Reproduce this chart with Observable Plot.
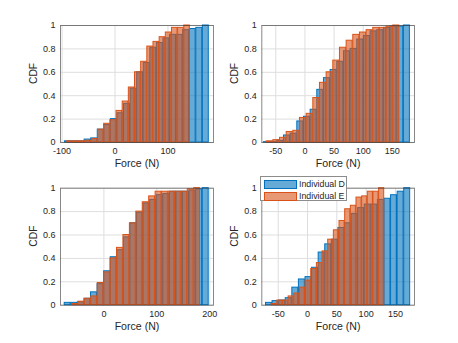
<!DOCTYPE html>
<html>
<head>
<meta charset="utf-8">
<script src="https://cdn.jsdelivr.net/npm/d3@7"></script>
<script src="https://cdn.jsdelivr.net/npm/@observablehq/plot@0.6"></script>
<style>
  html, body { margin: 0; padding: 0; background: #fff; }
  #root { position: relative; width: 458px; height: 343px; overflow: hidden; font-family: "Liberation Sans", Arial, Helvetica, sans-serif; }
  .panel { position: absolute; }
  #legend { position: absolute; left: 260px; top: 176px; width: 87px; height: 25px; background: #fff; border: 1px solid #8c8c8c; box-sizing: border-box; }
  .lp { position: absolute; left: 3px; width: 33px; height: 9px; box-sizing: border-box; }
  .lt { position: absolute; left: 38px; font-size: 8.8px; color: #262626; line-height: 10px; white-space: nowrap; }
</style>
</head>
<body>
<div id="root"></div>
<script>
// ---------- data ----------
const seriesNames = ["Individual D", "Individual E"];
const yTicks = [0, 0.2, 0.4, 0.6, 0.8, 1];

// Panel 1 (top-left)
const p1Ticks = [-100, 0, 100];
const p1Domain = [-103, 186];
const p1DStart = -95.3, p1DWidth = 12.41;
const p1DCdf = [0.01,0.01,0.01,0.025,0.035,0.11,0.15,0.20,0.25,0.33,0.46,0.60,0.68,0.81,0.85,0.89,0.92,0.92,0.96,0.97,0.98,1.0];
const p1EStart = -90.9, p1EWidth = 11.64;
const p1ECdf = [0.01,0.01,0.01,0.015,0.03,0.11,0.16,0.19,0.27,0.35,0.47,0.60,0.69,0.82,0.86,0.90,0.94,0.98,0.98,1.0];

// Panel 2 (top-right)
const p2Ticks = [-50, 0, 50, 100, 150];
const p2Domain = [-74, 188];
const p2DStart = -70.8, p2DWidth = 11.43;
const p2DCdf = [0.003,0.005,0.015,0.06,0.075,0.18,0.22,0.28,0.45,0.55,0.62,0.69,0.78,0.80,0.88,0.91,0.95,0.96,0.98,0.99,0.99,1.0];
const p2EStart = -66.2, p2EWidth = 11.43;
const p2ECdf = [0.01,0.02,0.04,0.09,0.10,0.21,0.245,0.38,0.51,0.60,0.70,0.81,0.87,0.92,0.94,0.96,0.98,0.98,0.99,1.0];

// Panel 3 (bottom-left)
const p3Ticks = [0, 100, 200];
const p3Domain = [-82, 207];
const p3DStart = -74.7, p3DWidth = 12.42;
const p3DCdf = [0.02,0.02,0.025,0.055,0.11,0.18,0.29,0.41,0.47,0.58,0.70,0.79,0.87,0.90,0.94,0.95,0.97,0.97,0.97,0.98,0.99,1.0];
const p3EStart = -60.9, p3EWidth = 12.15;
const p3ECdf = [0.01,0.03,0.055,0.075,0.19,0.28,0.40,0.49,0.60,0.70,0.80,0.88,0.93,0.97,0.97,0.97,0.97,0.97,0.99,1.0];

// Panel 4 (bottom-right)
const p4Ticks = [-50, 0, 50, 100, 150];
const p4Domain = [-78, 182.5];
const p4DStart = -71.4, p4DWidth = 11.23;
const p4DCdf = [0.02,0.035,0.04,0.06,0.15,0.22,0.24,0.32,0.45,0.52,0.56,0.66,0.70,0.78,0.83,0.86,0.86,0.90,0.91,0.94,0.97,1.0];
const p4EStart = -61.7, p4EWidth = 9.65;
const p4ECdf = [0.01,0.04,0.04,0.075,0.10,0.15,0.21,0.31,0.36,0.46,0.56,0.64,0.72,0.82,0.85,0.92,0.93,0.97,0.97,1.0];

// ---------- styles ----------
const colD = "#0072BD", colE = "#D95319";
const font = "'Liberation Sans', Arial, Helvetica, sans-serif";
const barWidth = 0.9;

function bins(start, width, cdf) {
  const pad = width * (1 - barWidth) / 2;
  return cdf.map((v, i) => ({
    x1: start + i * width + pad,
    x2: start + (i + 1) * width - pad,
    cdf: v
  }));
}

function panel(opts) {
  const {left, top, width, height, mL, mR, mT, mB, domain, ticks, D, E} = opts;
  const svg = Plot.plot({
    width, height,
    marginLeft: mL, marginRight: mR, marginTop: mT, marginBottom: mB,
    style: {fontFamily: font, background: "transparent", overflow: "visible"},
    x: {domain, nice: false},
    y: {domain: [0, 1], nice: false},
    marks: [
      Plot.gridX({ticks, stroke: "#dedede", strokeOpacity: 1}),
      Plot.gridY({ticks: yTicks, stroke: "#dedede", strokeOpacity: 1}),
      Plot.rect(D, {x1: "x1", x2: "x2", y1: 0, y2: "cdf", fill: colD, fillOpacity: 0.6, stroke: colD, strokeWidth: 1}),
      Plot.rect(E, {x1: "x1", x2: "x2", y1: 0, y2: "cdf", fill: colE, fillOpacity: 0.6, stroke: colE, strokeWidth: 1}),
      Plot.frame({stroke: "#262626", strokeOpacity: 0.55, strokeWidth: 1}),
      Plot.axisX({ticks, tickSize: 0, tickPadding: 5.5, tickFormat: d => String(d), label: null, fontSize: 9, color: "#262626"}),
      Plot.axisY({ticks: yTicks, tickSize: 0, tickPadding: 5, tickFormat: d => String(d), label: null, fontSize: 9, color: "#262626"}),
      Plot.text(["Force (N)"], {frameAnchor: "bottom", dy: 24.5, fontSize: 10.6, fill: "#262626"}),
      Plot.text(["CDF"], {frameAnchor: "left", dx: -27, rotate: -90, fontSize: 10.3, fill: "#262626"})
    ]
  });
  svg.classList.add("panel");
  svg.style.left = left + "px";
  svg.style.top = top + "px";
  document.getElementById("root").appendChild(svg);
}

panel({left: 0, top: 0, width: 229, height: 172, mL: 60, mR: 16, mT: 25, mB: 30,
  domain: p1Domain, ticks: p1Ticks, D: bins(p1DStart, p1DWidth, p1DCdf), E: bins(p1EStart, p1EWidth, p1ECdf)});
panel({left: 229, top: 0, width: 229, height: 172, mL: 32.3, mR: 44, mT: 25, mB: 30,
  domain: p2Domain, ticks: p2Ticks, D: bins(p2DStart, p2DWidth, p2DCdf), E: bins(p2EStart, p2EWidth, p2ECdf)});
panel({left: 0, top: 160, width: 229, height: 183, mL: 60, mR: 16, mT: 27.7, mB: 38.3,
  domain: p3Domain, ticks: p3Ticks, D: bins(p3DStart, p3DWidth, p3DCdf), E: bins(p3EStart, p3EWidth, p3ECdf)});
panel({left: 229, top: 160, width: 229, height: 183, mL: 32.3, mR: 44, mT: 27.7, mB: 38.3,
  domain: p4Domain, ticks: p4Ticks, D: bins(p4DStart, p4DWidth, p4DCdf), E: bins(p4EStart, p4EWidth, p4ECdf)});

// legend (panel 4)
const legend = document.createElement("div");
legend.id = "legend";
[[colD, "rgba(0,114,189,0.6)"], [colE, "rgba(217,83,25,0.6)"]].forEach(([c, f], i) => {
  const p = document.createElement("div");
  p.className = "lp";
  p.style.top = (2.5 + i * 12.3) + "px";
  p.style.background = f;
  p.style.border = "1px solid " + c;
  legend.appendChild(p);
  const t = document.createElement("div");
  t.className = "lt";
  t.style.top = (1.8 + i * 12.3) + "px";
  t.textContent = seriesNames[i];
  legend.appendChild(t);
});
document.getElementById("root").appendChild(legend);
</script>
</body>
</html>
